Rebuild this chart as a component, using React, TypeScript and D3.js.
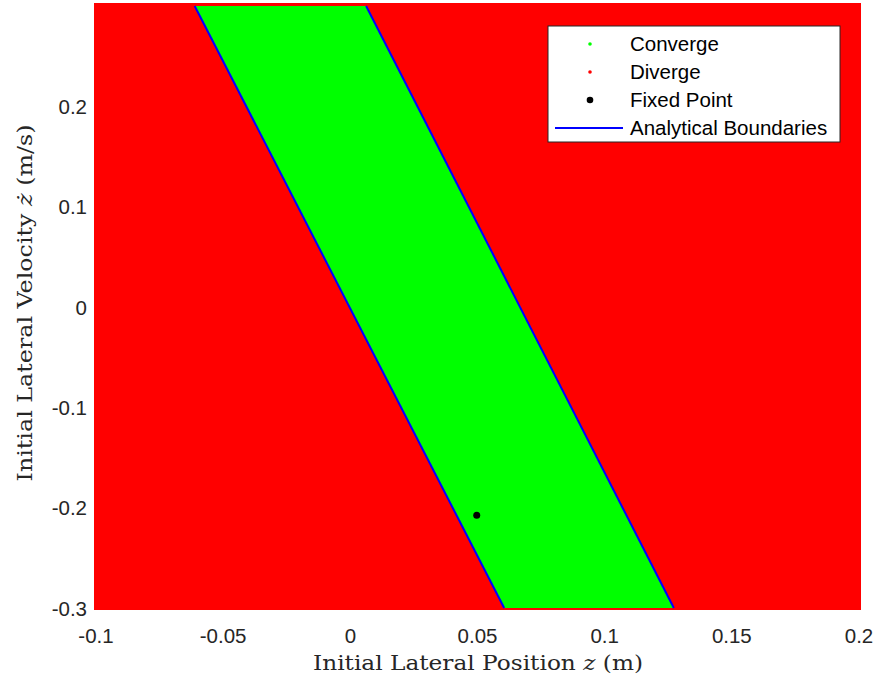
import React from 'react';
import * as d3 from 'd3';

// axis ranges and ticks
const xTicks = [-0.1, -0.05, 0, 0.05, 0.1, 0.15, 0.2];
const yTicks = [-0.3, -0.2, -0.1, 0, 0.1, 0.2];
const xDomain = [-0.1, 0.2];
const yDomain = [-0.3, 0.3];

// analytical boundaries (z as function of zdot), endpoints at zdot = -0.3 and 0.3
const boundaryZdot = [-0.3, 0.3];
const leftBoundaryZ = [0.0605, -0.0612];
const rightBoundaryZ = [0.1272, 0.0062];

// fixed point
const fixedPoint = { z: 0.0497, zdot: -0.2075 };

const legendItems = ['Converge', 'Diverge', 'Fixed Point', 'Analytical Boundaries'];

const W = 881;
const H = 682;
const margin = { left: 96, right: 22, top: 6, bottom: 74 };

const App = () => {
  const x = d3.scaleLinear().domain(xDomain).range([margin.left, W - margin.right]);
  const y = d3.scaleLinear().domain(yDomain).range([H - margin.bottom, margin.top]);

  const lineGen = d3.line<[number, number]>()
    .x(d => x(d[0]))
    .y(d => y(d[1]));

  const leftPts: [number, number][] = boundaryZdot.map((v, i) => [leftBoundaryZ[i], v]);
  const rightPts: [number, number][] = boundaryZdot.map((v, i) => [rightBoundaryZ[i], v]);
  const greenPoly = [...leftPts, ...rightPts.slice().reverse()];

  const pad = 2; // marker overhang of the scatter grid
  const tickFont = 'Liberation Sans, Arial, sans-serif';
  const labelFont = 'DejaVu Serif, serif';
  const fs = 20.5;

  const lx = 548, ly = 26, lw = 292, lh = 116;

  return (
    <svg width={W} height={H} style={{ position: 'absolute', left: 0, top: 0, background: '#fff' }}>
      {/* diverge background */}
      <rect
        x={x(xDomain[0]) - pad}
        y={y(yDomain[1]) - pad - 1}
        width={x(xDomain[1]) - x(xDomain[0]) + pad * 2}
        height={y(yDomain[0]) - y(yDomain[1]) + pad * 2 + 1}
        fill="#ff0000"
      />
      {/* converge band */}
      <path d={lineGen(greenPoly) + 'Z'} fill="#00ff00" />
      {/* analytical boundaries */}
      <path d={lineGen(leftPts) || ''} stroke="#0000ff" strokeWidth={2} fill="none" />
      <path d={lineGen(rightPts) || ''} stroke="#0000ff" strokeWidth={2} fill="none" />
      {/* fixed point */}
      <circle cx={x(fixedPoint.z)} cy={y(fixedPoint.zdot)} r={3.5} fill="#000" />

      {/* tick labels */}
      {xTicks.map(t => (
        <text key={'x' + t} x={x(t)} y={643} textAnchor="middle"
          fontFamily={tickFont} fontSize={fs} fill="#262626">
          {String(t)}
        </text>
      ))}
      {yTicks.map(t => (
        <text key={'y' + t} x={margin.left - 9} y={y(t) + 7.5} textAnchor="end"
          fontFamily={tickFont} fontSize={fs} fill="#262626">
          {String(t)}
        </text>
      ))}

      {/* axis labels */}
      <text x={478} y={670} textAnchor="middle" fontFamily={labelFont} fontSize={20.5}
        textLength={330} lengthAdjust="spacingAndGlyphs" fill="#262626">
        Initial Lateral Position <tspan fontStyle="italic">z</tspan> (m)
      </text>
      <text transform="translate(32,303) rotate(-90)" textAnchor="middle"
        fontFamily={labelFont} fontSize={20.5} textLength={357} lengthAdjust="spacingAndGlyphs"
        fill="#262626">
        Initial Lateral Velocity <tspan fontStyle="italic">ż</tspan> (m/s)
      </text>

      {/* legend */}
      <rect x={lx} y={ly} width={lw} height={lh} fill="#fff" stroke="#262626" strokeWidth={1} />
      {legendItems.map((name, i) => {
        const cy = ly + 18 + i * 28;
        return (
          <g key={name}>
            {i === 0 && <circle cx={590} cy={cy} r={1.8} fill="#00ff00" />}
            {i === 1 && <circle cx={590} cy={cy} r={1.8} fill="#ff0000" />}
            {i === 2 && <circle cx={590} cy={cy} r={3.3} fill="#000" />}
            {i === 3 && <line x1={555} x2={623} y1={cy} y2={cy} stroke="#0000ff" strokeWidth={2} />}
            <text x={630} y={cy + 7} fontFamily={tickFont} fontSize={fs} fill="#000">{name}</text>
          </g>
        );
      })}
    </svg>
  );
};

export default App;
